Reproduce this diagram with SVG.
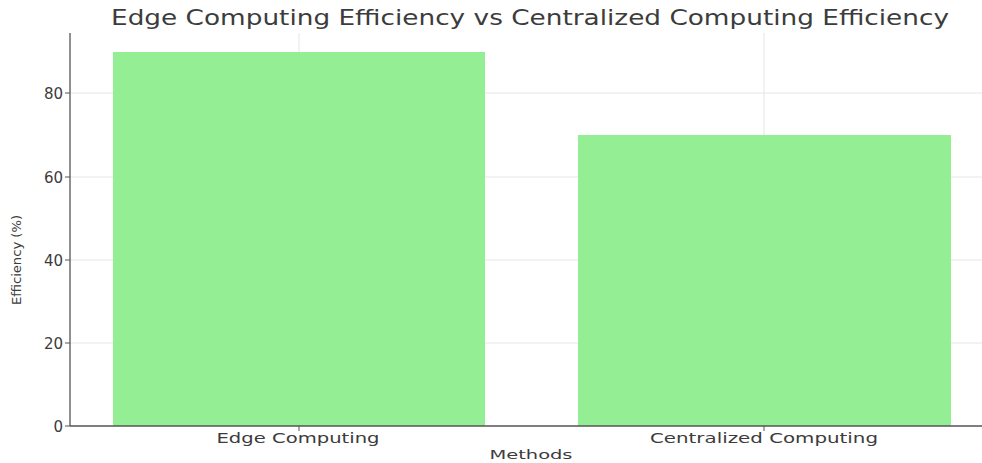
<svg xmlns="http://www.w3.org/2000/svg" width="982" height="463" viewBox="0 0 982 463">
  <style>
    text { font-family: "DejaVu Sans", "Liberation Sans", sans-serif; fill: #3c3c3c; }
    .grid { stroke: #e6e6e6; stroke-width: 1; }
    .spine { stroke: #555555; stroke-width: 1.3; fill: none; }
    .tick { stroke: #555555; stroke-width: 1; }
    .bar { fill: #90ee90; fill-opacity: 0.96; }
    .ytl { font-size: 15px; text-anchor: end; }
    .xtl { font-size: 14px; text-anchor: middle; }
  </style>
  <rect width="982" height="463" fill="#ffffff"/>

  <!-- title -->
  <text x="530" y="25" font-size="21" text-anchor="middle" textLength="838" lengthAdjust="spacingAndGlyphs" fill="#454545">Edge Computing Efficiency vs Centralized Computing Efficiency</text>

  <!-- grid -->
  <g id="grid">
    <line class="grid" x1="70" y1="93" x2="982" y2="93"/>
    <line class="grid" x1="70" y1="177" x2="982" y2="177"/>
    <line class="grid" x1="70" y1="260" x2="982" y2="260"/>
    <line class="grid" x1="70" y1="343" x2="982" y2="343"/>
    <line class="grid" x1="299" y1="33" x2="299" y2="426"/>
    <line class="grid" x1="764" y1="33" x2="764" y2="426"/>
  </g>

  <!-- bars -->
  <g id="bar-edge">
    <rect class="bar" x="113" y="52" width="372" height="374"/>
  </g>
  <g id="bar-centralized">
    <rect class="bar" x="578" y="135" width="373" height="291"/>
  </g>

  <!-- axes -->
  <g id="axes">
    <line class="spine" x1="70" y1="33" x2="70" y2="426"/>
    <line class="spine" x1="70" y1="426" x2="982" y2="426"/>
    <line class="tick" x1="65" y1="426" x2="70" y2="426"/>
    <line class="tick" x1="65" y1="343" x2="70" y2="343"/>
    <line class="tick" x1="65" y1="260" x2="70" y2="260"/>
    <line class="tick" x1="65" y1="177" x2="70" y2="177"/>
    <line class="tick" x1="65" y1="93" x2="70" y2="93"/>
    <line class="tick" x1="299" y1="426" x2="299" y2="431"/>
    <line class="tick" x1="764" y1="426" x2="764" y2="431"/>
  </g>

  <!-- y tick labels -->
  <g id="y-ticks">
    <text class="ytl" x="63" y="432">0</text>
    <text class="ytl" x="63" y="349">20</text>
    <text class="ytl" x="63" y="266">40</text>
    <text class="ytl" x="63" y="183">60</text>
    <text class="ytl" x="63" y="99">80</text>
  </g>

  <!-- x tick labels -->
  <g id="x-ticks">
    <text class="xtl" x="298" y="443" textLength="163" lengthAdjust="spacingAndGlyphs">Edge Computing</text>
    <text class="xtl" x="764" y="443" textLength="228" lengthAdjust="spacingAndGlyphs">Centralized Computing</text>
  </g>

  <!-- axis labels -->
  <text x="531" y="459" font-size="13" text-anchor="middle" textLength="83" lengthAdjust="spacingAndGlyphs">Methods</text>
  <text transform="translate(21,260) rotate(-90)" font-size="12" text-anchor="middle" textLength="90" lengthAdjust="spacingAndGlyphs">Efficiency (%)</text>
</svg>
